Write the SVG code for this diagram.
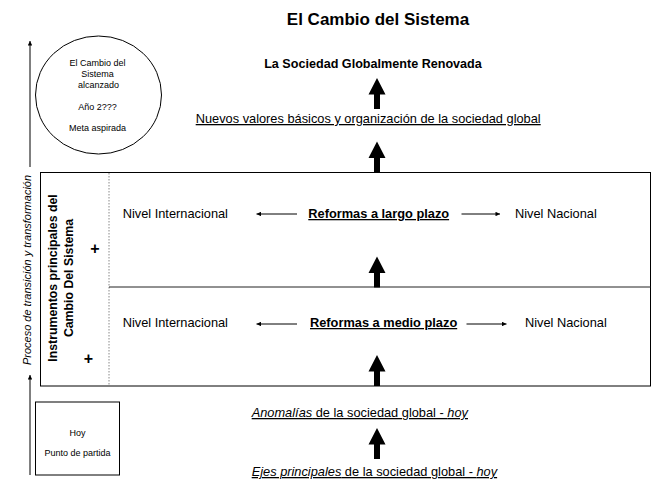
<svg xmlns="http://www.w3.org/2000/svg" xmlns:xlink="http://www.w3.org/1999/xlink" width="651" height="481" viewBox="0 0 651 481">
<style>
  text { font-family: "Liberation Sans", Arial, sans-serif; fill: #000; }
  .t { font-size: 12.8px; }
  .b { font-weight: bold; }
  .u { text-decoration: underline; }
  .i { font-style: italic; }
  .s { font-size: 9px; }
  .ln { stroke: #000; stroke-width: 1; fill: none; }
  .thin { stroke: #000; stroke-width: 1; fill: none; marker-end: url(#tip); }
</style>
<defs>
  <marker id="tip" viewBox="0 0 10 10" refX="10" refY="5" markerWidth="5" markerHeight="4.5" orient="auto" markerUnits="userSpaceOnUse">
    <path d="M0,0 L10,5 L0,10 z" fill="#000"/>
  </marker>
  <polygon id="bigup" points="0,0 8.5,16.5 3,16.5 3,31 -3,31 -3,16.5 -8.5,16.5" fill="#000"/>
</defs>
<rect width="651" height="481" fill="#fff"/>

<g id="title">
  <text x="378" y="25" font-size="17" class="b" text-anchor="middle">El Cambio del Sistema</text>
</g>

<g id="goal">
  <ellipse cx="98.5" cy="95" rx="63" ry="59" fill="#fff" stroke="#000" stroke-width="1"/>
  <text class="s" x="97.5" y="66" text-anchor="middle">El Cambio del</text>
  <text class="s" x="97.5" y="77" text-anchor="middle">Sistema</text>
  <text class="s" x="98.5" y="88" text-anchor="middle">alcanzado</text>
  <text class="s" x="97.5" y="110" text-anchor="middle">Año 2???</text>
  <text class="s" x="97.5" y="131" text-anchor="middle">Meta aspirada</text>
</g>

<g id="start">
  <rect x="35.5" y="402" width="84" height="73" fill="#fff" stroke="#000" stroke-width="1"/>
  <text class="s" x="77.5" y="436" text-anchor="middle">Hoy</text>
  <text class="s" x="77.5" y="456" text-anchor="middle">Punto de partida</text>
</g>

<g id="process-label">
  <text class="i" font-size="11" transform="translate(31,270) rotate(-90)" text-anchor="middle">Proceso de transición y transformación</text>
</g>

<g id="reform-frame">
  <rect x="40.5" y="172.5" width="610" height="213.5" fill="none" stroke="#000" stroke-width="1"/>
  <line x1="109" y1="173" x2="109" y2="385.5" stroke="#888" stroke-width="1" stroke-dasharray="1.5,1.5"/>
  <line x1="109" y1="287" x2="650.5" y2="287" stroke="#222" stroke-width="1"/>
</g>

<g id="instruments">
  <text class="b" font-size="12.3" transform="translate(57,278) rotate(-90)" text-anchor="middle">Instrumentos principales del</text>
  <text class="b" font-size="12.3" transform="translate(72.5,278) rotate(-90)" text-anchor="middle">Cambio Del Sistema</text>
  <text class="b" font-size="16" x="95" y="254" text-anchor="middle">+</text>
  <text class="b" font-size="16" x="88.5" y="364" text-anchor="middle">+</text>
</g>

<g id="long-term">
  <text class="t" x="122.7" y="218">Nivel Internacional</text>
  <text class="t b u" x="308.3" y="218">Reformas a largo plazo</text>
  <text class="t" x="515" y="218">Nivel Nacional</text>
</g>

<g id="mid-term">
  <text class="t" x="122.7" y="327">Nivel Internacional</text>
  <text class="t b u" x="310" y="327">Reformas a medio plazo</text>
  <text class="t" x="525" y="327">Nivel Nacional</text>
</g>

<g id="renewed">
  <text x="373" y="68" font-size="12.6" class="b" text-anchor="middle">La Sociedad Globalmente Renovada</text>
</g>

<g id="new-values">
  <text class="t u" x="195.7" y="123">Nuevos valores básicos y organización de la sociedad global </text>
</g>

<g id="anomalies">
  <text class="t u" x="251.7" y="417"><tspan class="i">Anomalías</tspan> de la sociedad global - <tspan class="i">hoy</tspan></text>
</g>

<g id="axes">
  <text class="t u" x="251.7" y="476"><tspan class="i">Ejes principales</tspan> de la sociedad global - <tspan class="i">hoy</tspan></text>
</g>

<g id="connectors">
  <use xlink:href="#bigup" x="377" y="78"/>
  <use xlink:href="#bigup" x="377" y="141.5"/>
  <use xlink:href="#bigup" x="377" y="256.5"/>
  <use xlink:href="#bigup" x="377" y="355"/>
  <use xlink:href="#bigup" x="377" y="428"/>
  <line class="thin" x1="297" y1="214" x2="256.5" y2="214"/>
  <line class="thin" x1="461.5" y1="214" x2="500" y2="214"/>
  <line class="thin" x1="297" y1="324" x2="256.5" y2="324"/>
  <line class="thin" x1="466.5" y1="324" x2="506.5" y2="324"/>
  <line class="thin" x1="30" y1="167" x2="30" y2="41"/>
  <line class="thin" x1="30" y1="475" x2="30" y2="375"/>
</g>
</svg>
